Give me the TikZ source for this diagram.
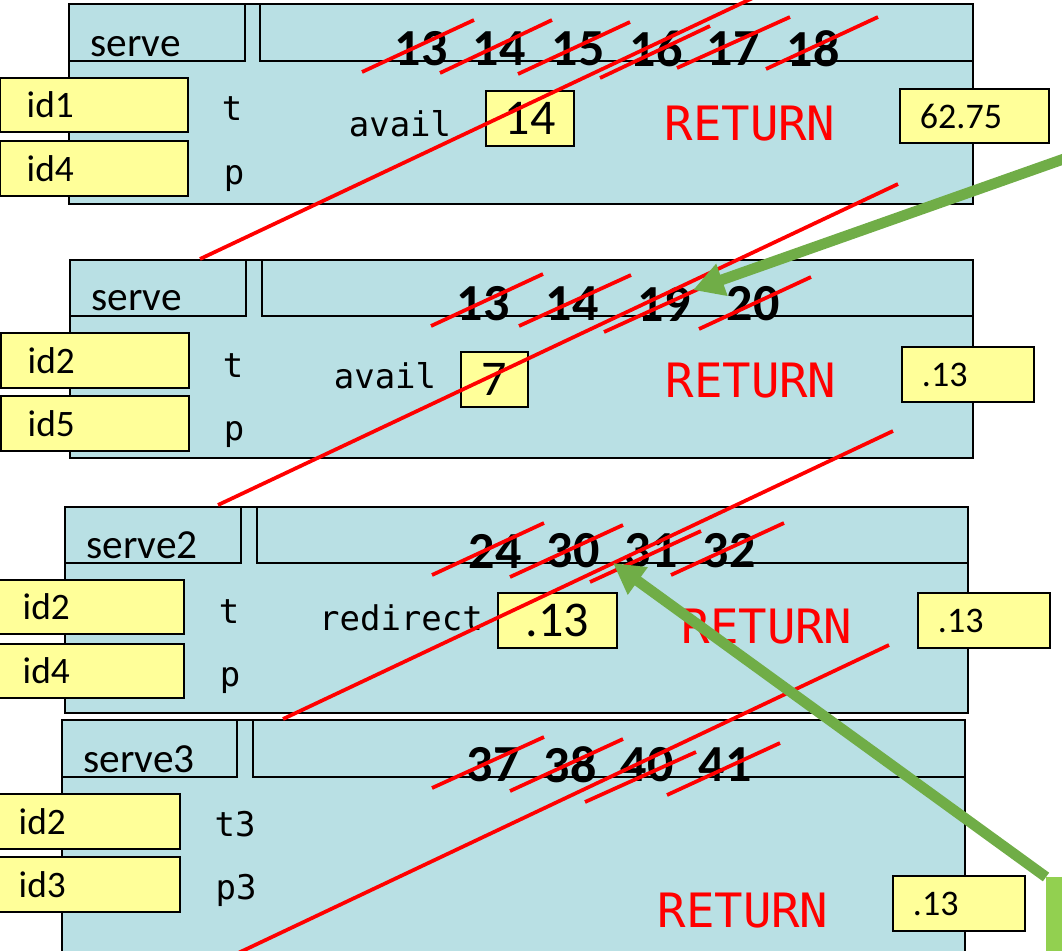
\documentclass[tikz,border=0pt]{standalone}
\usepackage{fontspec}
\setmainfont{Carlito}
\newfontfamily\codefont{DejaVu Sans Mono}
\usetikzlibrary{arrows.meta}
\definecolor{framebg}{RGB}{185,224,228}
\definecolor{boxyellow}{RGB}{255,255,153}
\definecolor{arrowgreen}{RGB}{112,173,71}
\definecolor{notegreen}{RGB}{146,208,80}
\begin{document}
\begin{tikzpicture}[x=0.75pt, y=-0.75pt,
        frame/.style={draw, line width=1.8pt, fill=framebg},
        hdr/.style={draw, line width=1.4pt, fill=framebg},
        fname/.style={anchor=base west, inner sep=0pt, font=\fontsize{31pt}{36pt}\selectfont},
        idbox/.style={draw, line width=1.4pt, fill=boxyellow, anchor=east, minimum height=41pt, text width=101pt, inner xsep=20pt, align=left, font=\fontsize{28pt}{33pt}\selectfont},
        var/.style={anchor=base, inner sep=0pt, font=\codefont\fontsize{25.5pt}{30pt}\selectfont},
        valbox/.style={draw, line width=1.4pt, fill=boxyellow, minimum height=41pt, inner sep=0pt, font=\fontsize{37.5pt}{42pt}\selectfont},
        retbox/.style={draw, line width=1.4pt, fill=boxyellow, anchor=west, minimum height=41pt, text width=69pt, inner xsep=15pt, align=left, font=\fontsize{27pt}{32pt}\selectfont},
        ret/.style={anchor=base, inner sep=0pt, text=red, font=\codefont\fontsize{35.5pt}{40pt}\selectfont},
        num/.style={inner sep=0pt, font=\bfseries\fontsize{39pt}{44pt}\selectfont},
        cross/.style={red, line width=2.8pt},
        hint/.style={arrowgreen, line width=8pt, -{Triangle[length=23pt, width=24pt]}},
        note/.style={fill=notegreen, anchor=north west, minimum width=30pt, minimum height=70pt, inner sep=0pt}]
    \useasboundingbox (0,0) rectangle (1062,950);

    % frame 1
    \draw[frame] (69,4) rectangle (973,204);
    \draw[hdr] (69,4) rectangle (245,61);
    \draw[hdr] (260,4) rectangle (973,61);
    \node[fname] at (90,56) (f1lbl) {serve};
    \node[idbox] at (189,105) (f1id1) {id1};
    \node[idbox] at (189,168.5) (f1id4) {id4};
    \node[var] at (232,120) (f1t) {t};
    \node[var] at (234,184) (f1p) {p};
    \node[var] at (400,136) (f1avail) {avail};
    \node[valbox, minimum width=66pt] at (530,118.5) (f1val) {14};
    \node[ret] at (750,140) (f1ret) {RETURN};
    \node[retbox, text width=81.75pt] at (899,116) (f1res) {62.75};
    \node[num] at (421,49) (f1n13) {13};
    \node[num] at (499,49) (f1n14) {14};
    \node[num] at (578,49) (f1n15) {15};
    \node[num] at (656,49) (f1n16) {16};
    \node[num] at (733,49) (f1n17) {17};
    \node[num] at (813,49) (f1n18) {18};

    % frame 2
    \draw[frame] (70,260) rectangle (973,458);
    \draw[hdr] (70,260) rectangle (246,316);
    \draw[hdr] (262,260) rectangle (973,316);
    \node[fname] at (91,310) (f2lbl) {serve};
    \node[idbox] at (190,360.5) (f2id2) {id2};
    \node[idbox] at (190,423.5) (f2id5) {id5};
    \node[var] at (233,377) (f2t) {t};
    \node[var] at (234,440) (f2p) {p};
    \node[var] at (385,388) (f2avail) {avail};
    \node[valbox, minimum width=50pt] at (494.5,379.5) (f2val) {7};
    \node[ret] at (751,397) (f2ret) {RETURN};
    \node[retbox] at (901,374.5) (f2res) {.13};
    \node[num] at (483,304) (f2n13) {13};
    \node[num] at (572,304) (f2n14) {14};
    \node[num] at (664,304) (f2n19) {19};
    \node[num] at (753,304) (f2n20) {20};

    % frame 3
    \draw[frame] (65,507) rectangle (968,713);
    \draw[hdr] (65,507) rectangle (241,563);
    \draw[hdr] (257,507) rectangle (968,563);
    \node[fname] at (86,558) (f3lbl) {serve2};
    \node[idbox] at (185,607) (f3id2) {id2};
    \node[idbox] at (185,671) (f3id4) {id4};
    \node[var] at (229,623) (f3t) {t};
    \node[var] at (230,686) (f3p) {p};
    \node[var] at (401,630) (f3redir) {redirect};
    \node[valbox, minimum width=89pt] at (557.5,620.5) (f3val) {.13};
    \node[ret] at (767,643) (f3ret) {RETURN};
    \node[retbox] at (917,620.5) (f3res) {.13};
    \node[num] at (495,551) (f3n24) {24};
    \node[num] at (573,551) (f3n30) {30};
    \node[num] at (651,551) (f3n31) {31};
    \node[num] at (729,551) (f3n32) {32};

    % frame 4
    \draw[frame] (62,720) rectangle (965,962);
    \draw[hdr] (62,720) rectangle (237,777);
    \draw[hdr] (253,720) rectangle (965,777);
    \node[fname] at (83,772) (f4lbl) {serve3};
    \node[idbox] at (181,821.5) (f4id2) {id2};
    \node[idbox] at (181,884.5) (f4id3) {id3};
    \node[var] at (235,836) (f4t) {t3};
    \node[var] at (236,899) (f4p) {p3};
    \node[ret] at (743,927) (f4ret) {RETURN};
    \node[retbox] at (892,903.5) (f4res) {.13};
    \node[num] at (493,765) (f4n37) {37};
    \node[num] at (570,765) (f4n38) {38};
    \node[num] at (647,765) (f4n40) {40};
    \node[num] at (725,765) (f4n41) {41};

    % crossings
    \draw[cross] (362,72) -- (474,20);
    \draw[cross] (440,73) -- (552,20);
    \draw[cross] (518,74) -- (630,22);
    \draw[cross] (600,78) -- (710,26);
    \draw[cross] (677,68) -- (790,17);
    \draw[cross] (766,69) -- (878,17);
    \draw[cross] (431,326) -- (543,274);
    \draw[cross] (519,326) -- (631,275);
    \draw[cross] (604,332) -- (716,281);
    \draw[cross] (699,329) -- (811,277);
    \draw[cross] (432,575) -- (544,523);
    \draw[cross] (510,577) -- (623,525);
    \draw[cross] (590,582) -- (701,531);
    \draw[cross] (671,575) -- (784,523);
    \draw[cross] (432,788) -- (544,737);
    \draw[cross] (510,791) -- (623,739);
    \draw[cross] (585,802) -- (696,752);
    \draw[cross] (667,795) -- (780,743);
    \draw[cross] (200,259) -- (757,-4);
    \draw[cross] (218,505) -- (898,184);
    \draw[cross] (283,719) -- (893,431);
    \draw[cross] (236,954) -- (889,645);

    % hints
    \node[note] at (1046,877) (note) {};
    \coordinate (a1from) at (1092,149);
    \coordinate (a1to) at (693,290);
    \coordinate (a2to) at (613,563);
    \draw[hint] (a1from) -- (a1to);
    \draw[hint] (note.north west) -- (a2to);
\end{tikzpicture}
\end{document}
